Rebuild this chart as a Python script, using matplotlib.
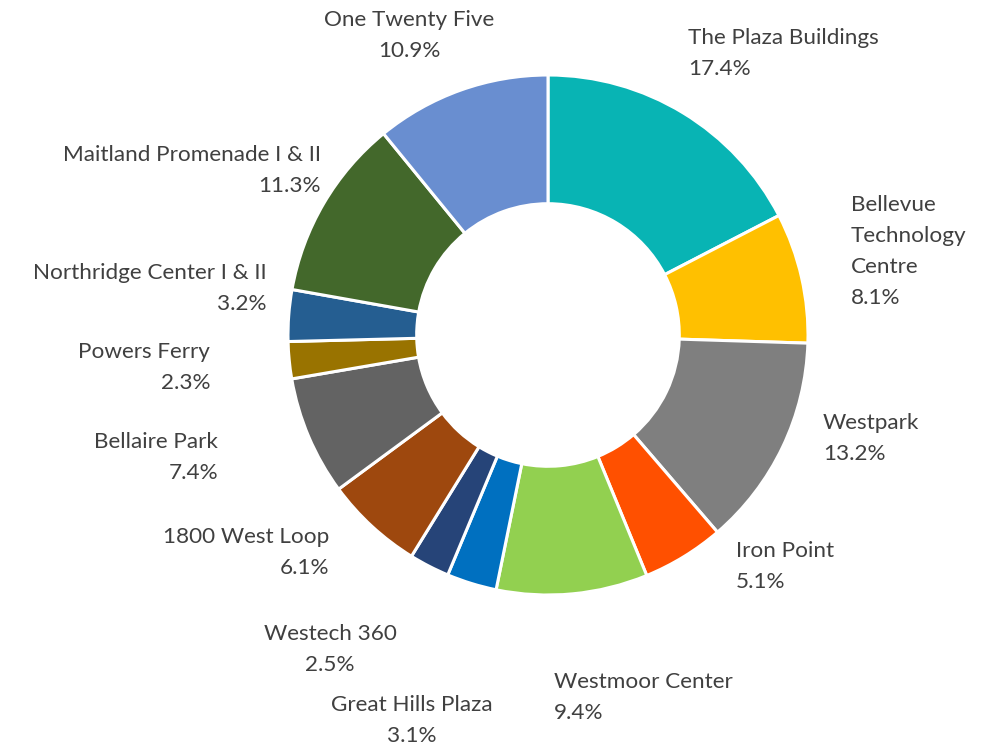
import matplotlib.pyplot as plt

# data (clockwise from 12 o'clock)
names = ["The Plaza Buildings", "Bellevue\nTechnology\nCentre", "Westpark", "Iron Point",
         "Westmoor Center", "Great Hills Plaza", "Westech 360", "1800 West Loop",
         "Bellaire Park", "Powers Ferry", "Northridge Center I & II",
         "Maitland Promenade I & II", "One Twenty Five"]
shares = [17.4, 8.1, 13.2, 5.1, 9.4, 3.1, 2.5, 6.1, 7.4, 2.3, 3.2, 11.3, 10.9]
colors = ["#08B4B4", "#FFC000", "#7F7F7F", "#FF5000", "#92D050", "#0070C0", "#264478",
          "#9E480E", "#636363", "#997300", "#255E91", "#43682B", "#698ED0"]

# label anchors in pixels (x, centre y of first line) and alignment
label_pos = [(688, 38, "left"), (851, 206, "left"), (823, 423, "left"), (736, 551, "left"),
             (554, 682, "left"), (412, 705, "center"), (330, 634, "center"),
             (329, 537, "right"), (218, 442, "right"), (210, 352, "right"),
             (267, 273, "right"), (321, 155, "right"), (409, 20, "center")]

W, H = 981, 748
fig = plt.figure(figsize=(W / 100, H / 100), dpi=100)
ax = fig.add_axes([0, 0, 1, 1])

cx, cy, R = 548, H - 335, 260
ax.pie(shares, colors=colors, startangle=90, counterclock=False, radius=R,
       center=(cx, cy), wedgeprops=dict(width=R * 0.495, edgecolor="white", linewidth=2.2))

line_h = 30.5
for name, val, (x, y, ha) in zip(names, shares, label_pos):
    n_lines = name.count("\n") + 2
    yc = y + (n_lines - 1) * line_h / 2
    ax.text(x, H - yc, f"{name}\n{val:.1f}%", ha=ha, va="center", multialignment=ha,
            fontsize=16.2, color="#404040", family="Lato", linespacing=1.68)

ax.set_xlim(0, W)
ax.set_ylim(0, H)
ax.set_aspect("equal")
ax.axis("off")
fig.savefig("out.png", dpi=100)
